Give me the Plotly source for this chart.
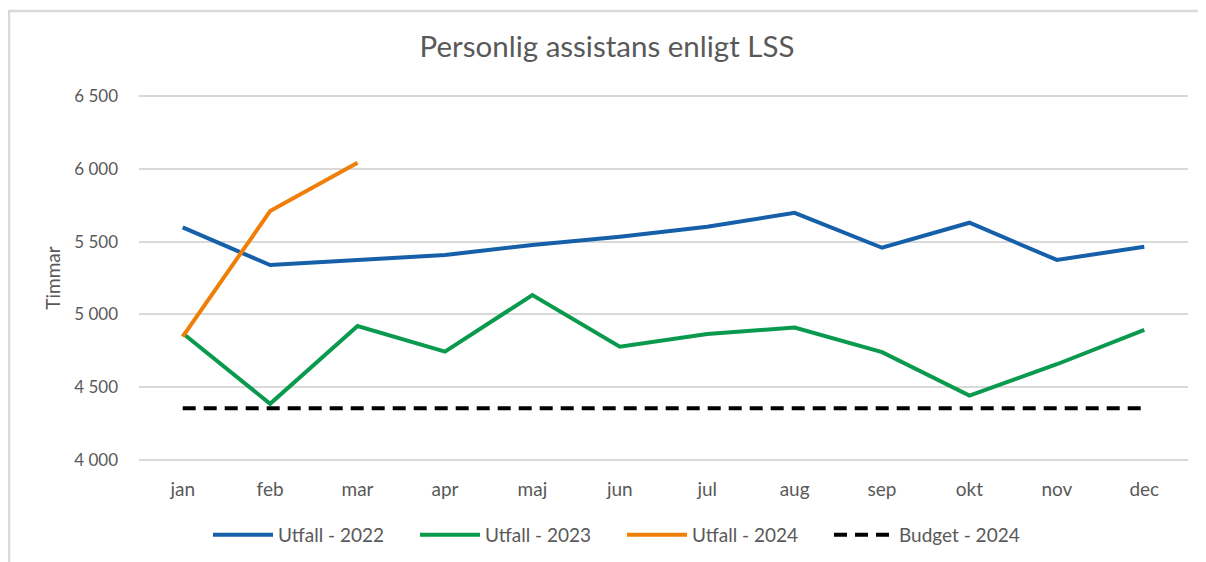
import plotly.graph_objects as go

months = ["jan", "feb", "mar", "apr", "maj", "jun", "jul", "aug", "sep", "okt", "nov", "dec"]
utfall_2022 = [5598, 5339, 5374, 5408, 5477, 5534, 5602, 5698, 5458, 5630, 5374, 5465]
utfall_2023 = [4870, 4385, 4920, 4744, 5133, 4778, 4865, 4909, 4740, 4442, 4657, 4893]
utfall_2024 = [4847, 5710, 6042]
budget_2024 = [4355] * 12
y_ticks = [4000, 4500, 5000, 5500, 6000, 6500]

# page body has an 8px default margin; compensate
OFF = 8
W, H = 1206 - OFF, 562 - OFF
L, R, T, B = 139 - OFF, 18, 86, 100
plot_h = H - T - B
plot_w = W - L - R

TXT = "#595959"
FONT = "Lato"

fig = go.Figure()
fig.add_trace(go.Scatter(x=months, y=utfall_2022, mode="lines", name="Utfall - 2022",
                         line=dict(color="#165FA9", width=4)))
fig.add_trace(go.Scatter(x=months, y=utfall_2023, mode="lines", name="Utfall - 2023",
                         line=dict(color="#0A9A4E", width=4)))
fig.add_trace(go.Scatter(x=months[:len(utfall_2024)], y=utfall_2024, mode="lines", name="Utfall - 2024",
                         line=dict(color="#F07F09", width=4)))
fig.add_trace(go.Scatter(x=months, y=budget_2024, mode="lines", name="Budget - 2024",
                         line=dict(color="#000000", width=4, dash="13px,8px")))

fig.update_layout(
    width=W, height=H,
    margin=dict(l=L, r=R, t=T, b=B, autoexpand=False),
    paper_bgcolor="white", plot_bgcolor="white",
    separators=", ",
    font=dict(family=FONT, color=TXT, size=17),
    title=dict(text="Personlig assistans enligt LSS", x=0.5, xanchor="center",
               y=1 - (47 - OFF) / H, yanchor="middle", yref="container",
               font=dict(family=FONT, size=29.5, color=TXT)),
    xaxis=dict(type="category", showgrid=False, zeroline=False, showline=False,
               ticks="", ticklabelstandoff=14, tickfont=dict(size=19, color=TXT),
               range=[-0.5, 11.5]),
    yaxis=dict(range=[3985, 6515], tickvals=y_ticks, tickformat=",d",
               showgrid=True, gridcolor="#D9D9D9", gridwidth=1.5, zeroline=False,
               showline=False, ticks="", ticklabelstandoff=20,
               tickfont=dict(size=17, color=TXT),
               title=dict(text="Timmar", standoff=8, font=dict(size=19, color=TXT))),
    legend=dict(orientation="h", x=(622 - OFF - L) / plot_w, xanchor="center",
                y=-(535 - OFF - (H - B)) / plot_h,
                yanchor="middle", font=dict(size=19, color=TXT),
                entrywidth=132, entrywidthmode="pixels", itemwidth=60,
                bgcolor="rgba(0,0,0,0)"),
    showlegend=True,
)

# outer chart frame (top and left edges visible in the reference)
fx = (8 - OFF - L) / plot_w
fy = (H - B - (11 - OFF)) / plot_h
fig.add_shape(type="line", xref="paper", yref="paper",
              x0=fx, x1=(W - L) / plot_w, y0=fy, y1=fy,
              line=dict(color="#D9D9D9", width=2.5), layer="below")
fig.add_shape(type="line", xref="paper", yref="paper",
              x0=fx + 1 / plot_w, x1=fx + 1 / plot_w, y0=fy, y1=-B / plot_h,
              line=dict(color="#D9D9D9", width=2.5), layer="below")

fig.write_html("out.html")
